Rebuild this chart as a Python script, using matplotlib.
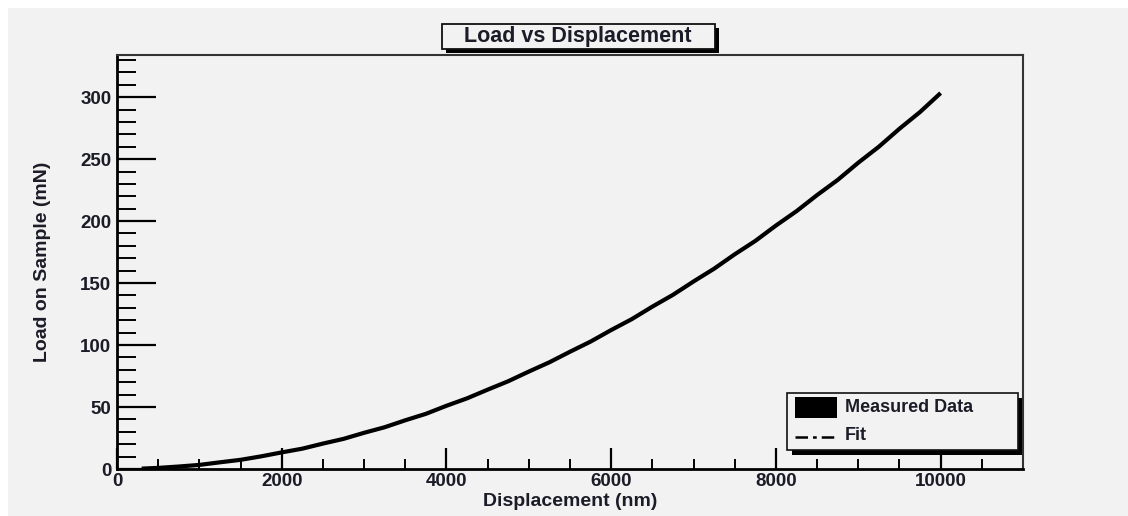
import matplotlib

matplotlib.use("Agg")
import matplotlib.pyplot as plt
from matplotlib.patches import Rectangle
from matplotlib.lines import Line2D
from matplotlib.ticker import MultipleLocator

# values
displacement_nm = [300, 500, 750, 1000, 1250, 1500, 1750, 2000, 2250, 2500,
                   2750, 3000, 3250, 3500, 3750, 4000, 4250, 4500, 4750, 5000,
                   5250, 5500, 5750, 6000, 6250, 6500, 6750, 7000, 7250, 7500,
                   7750, 8000, 8250, 8500, 8750, 9000, 9250, 9500, 9750, 10000]
measured_mN = [0.3, 0.9, 2.0, 3.3, 5.4, 7.4, 10.2, 13.4, 16.4, 20.5,
               24.3, 29.2, 33.7, 39.3, 44.5, 51.0, 57.0, 64.0, 70.8, 78.6,
               86.1, 94.6, 102.8, 112.1, 120.9, 131.0, 140.5, 151.3, 161.6, 173.2,
               184.0, 196.4, 208.0, 221.0, 233.2, 247.1, 260.0, 274.5, 288.0, 303.3]
fit_mN = [0.3, 0.9, 1.9, 3.4, 5.3, 7.5, 10.1, 13.2, 16.5, 20.3,
          24.5, 29.0, 33.8, 39.1, 44.7, 50.8, 57.1, 63.8, 71.0, 78.4,
          86.3, 94.4, 103.0, 111.9, 121.1, 130.8, 140.7, 151.1, 161.8, 172.9,
          184.3, 196.1, 208.3, 220.7, 233.6, 246.8, 260.3, 274.2, 288.4, 303.0]

W, H = 1128, 516
BG = "#f2f2f2"
INK = "#111111"
TXT = "#1c1c28"
plt.rcParams["font.family"] = ["Liberation Sans", "DejaVu Sans"]
plt.rcParams["font.weight"] = "bold"


def fx(px):
    return px / W


def fy(py):
    return 1 - py / H


fig = plt.figure(figsize=(W / 100, H / 100), dpi=100, facecolor="white")
fig.add_artist(Rectangle((fx(8), 0), 1.0, fy(8), transform=fig.transFigure,
                         facecolor=BG, edgecolor="none", zorder=0))

ax = fig.add_axes([fx(117), fy(469), fx(1023) - fx(117), fy(55) - fy(469)])
ax.patch.set_alpha(0)

ax.plot(displacement_nm, measured_mN, color="black", lw=3.0, solid_capstyle="butt", zorder=3)
ax.plot(displacement_nm, fit_mN, color="black", lw=1.2, dashes=(6, 2, 1.5, 2), zorder=4)

ax.set_xlim(0, 11000)
ax.set_ylim(0, 334)
ax.xaxis.set_major_locator(MultipleLocator(2000))
ax.xaxis.set_minor_locator(MultipleLocator(500))
ax.yaxis.set_major_locator(MultipleLocator(50))
ax.yaxis.set_minor_locator(MultipleLocator(10))
ax.tick_params(axis="x", which="major", direction="in", length=15, width=1.6, pad=3)
ax.tick_params(axis="x", which="minor", direction="in", length=7, width=1.4)
ax.tick_params(axis="y", which="major", direction="in", length=28, width=1.6, pad=4)
ax.tick_params(axis="y", which="minor", direction="in", length=14, width=1.4)
ax.tick_params(labelsize=13.5, labelcolor=TXT)
for s in ("left", "bottom"):
    ax.spines[s].set_linewidth(2.0)
for s in ("top", "right"):
    ax.spines[s].set_linewidth(1.5)
    ax.spines[s].set_color("#333333")

fig.text(fx(570), fy(501), "Displacement (nm)", ha="center", va="center",
         fontsize=14, fontweight="bold", color=TXT)
fig.text(fx(43), fy(262), "Load on Sample (mN)", ha="center", va="center",
         rotation=90, fontsize=14, fontweight="bold", color=TXT)

# title box with ROOT-style shadow
fig.add_artist(Rectangle((fx(446), fy(53)), fx(719) - fx(446), fy(28) - fy(53),
                         transform=fig.transFigure, facecolor="black", edgecolor="none"))
fig.add_artist(Rectangle((fx(442), fy(49)), fx(715) - fx(442), fy(24) - fy(49),
                         transform=fig.transFigure, facecolor=BG, edgecolor=INK, lw=1.3))
fig.text(fx(578), fy(36.5), "Load vs Displacement", ha="center", va="center",
         fontsize=15.5, fontweight="bold", color=TXT)

# legend box with shadow
fig.add_artist(Rectangle((fx(792), fy(455)), fx(1022) - fx(792), fy(398) - fy(455),
                         transform=fig.transFigure, facecolor="black", edgecolor="none", zorder=5))
fig.add_artist(Rectangle((fx(787), fy(450)), fx(1018) - fx(787), fy(393) - fy(450),
                         transform=fig.transFigure, facecolor=BG, edgecolor=INK, lw=1.2, zorder=6))
fig.add_artist(Rectangle((fx(795), fy(418)), fx(837) - fx(795), fy(397) - fy(418),
                         transform=fig.transFigure, facecolor="black", edgecolor="none", zorder=7))
fig.add_artist(Line2D([fx(795), fx(837)], [fy(437), fy(437)], transform=fig.transFigure,
                      color="black", lw=1.8, dashes=(5, 2, 1.5, 2), zorder=7))
fig.text(fx(845), fy(408), "Measured Data", ha="left", va="center", fontsize=13,
         fontweight="bold", color=TXT, zorder=7)
fig.text(fx(845), fy(436), "Fit", ha="left", va="center", fontsize=13,
         fontweight="bold", color=TXT, zorder=7)

fig.savefig("out.png", dpi=100, facecolor=fig.get_facecolor())
